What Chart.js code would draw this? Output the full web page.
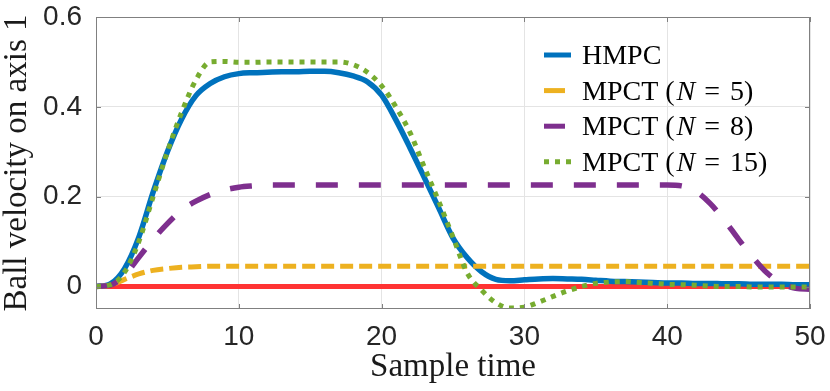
<!DOCTYPE html>
<html><head><meta charset="utf-8">
<script src="https://cdn.jsdelivr.net/npm/chart.js@4.4.0/dist/chart.umd.min.js"></script>
<style>html,body{margin:0;padding:0;background:#fff;}canvas{display:block;}</style>
</head><body>
<canvas id="c" width="830" height="391"></canvas>
<script>
const sampleTimes = [0,1,2,3,4,5,6,7,8,9,10,11,12,13,14,15,16,17,18,19,20,21,22,23,24,25,26,27,28,29,30,31,32,33,34,35,36,37,38,39,40,41,42,43,44,45,46,47,48,49,50];
const hmpc = [0,0.006,0.04,0.11,0.21,0.3,0.373,0.425,0.452,0.467,0.474,0.476,0.477,0.478,0.478,0.479,0.479,0.476,0.469,0.456,0.426,0.371,0.308,0.242,0.175,0.108,0.064,0.033,0.016,0.013,0.015,0.017,0.018,0.017,0.016,0.014,0.012,0.011,0.010,0.009,0.008,0.008,0.007,0.007,0.006,0.006,0.005,0.005,0.005,0.004,0.004];
const mpctN5 = [0,0.003,0.016,0.028,0.036,0.04,0.043,0.044,0.045,0.045,0.045,0.045,0.045,0.045,0.045,0.045,0.045,0.045,0.045,0.045,0.045,0.045,0.045,0.045,0.045,0.045,0.045,0.045,0.045,0.045,0.045,0.045,0.045,0.045,0.045,0.045,0.045,0.045,0.045,0.045,0.045,0.045,0.045,0.045,0.045,0.045,0.045,0.045,0.045,0.045,0.045];
const mpctN8 = [0,0.003,0.025,0.065,0.105,0.14,0.17,0.19,0.205,0.215,0.221,0.224,0.226,0.226,0.226,0.226,0.226,0.226,0.226,0.226,0.226,0.226,0.226,0.226,0.226,0.226,0.226,0.226,0.226,0.226,0.226,0.226,0.226,0.226,0.226,0.226,0.226,0.226,0.226,0.226,0.226,0.224,0.212,0.185,0.148,0.105,0.065,0.03,0.007,-0.004,-0.006];
const mpctN15 = [0,0.004,0.032,0.1,0.2,0.3,0.388,0.46,0.5,0.501,0.499,0.499,0.5,0.5,0.5,0.5,0.5,0.5,0.494,0.477,0.447,0.4,0.342,0.265,0.19,0.11,0.03,-0.008,-0.036,-0.048,-0.046,-0.035,-0.022,-0.01,0.0,0.007,0.01,0.011,0.009,0.007,0.005,0.004,0.003,0.001,0.0,0.0,-0.001,-0.001,-0.001,-0.001,-0.001];
const referenceTimes = [0,50];
const referenceValues = [0,0];
const seriesNames = ['HMPC','MPCT (N = 5)','MPCT (N = 8)','MPCT (N = 15)'];
const xTickValues = [0,10,20,30,40,50];
const xTickLabels = ['0','10','20','30','40','50'];
const yTickValues = [0,0.2,0.4,0.6];
const yTickLabels = ['0','0.2','0.4','0.6'];
const xTitle = 'Sample time';
const yTitle = 'Ball velocity on axis 1';

const pts = (xs, ys) => xs.map((x, i) => ({x: x, y: ys[i]}));

const colors = {blue:'#0072BD', yellow:'#EDB120', purple:'#7E2F8E', green:'#77AC30', red:'#FF3333'};

const datasets = [
  {label: seriesNames[0], data: pts(sampleTimes, hmpc), borderColor: colors.blue, borderWidth: 5.5, order: 3, legendDash: [], legendLen: 27},
  {label: seriesNames[1], data: pts(sampleTimes, mpctN5), borderColor: colors.yellow, borderWidth: 5, borderDash: [13, 6], order: 2, legendDash: [], legendLen: 21},
  {label: seriesNames[2], data: pts(sampleTimes, mpctN8), borderColor: colors.purple, borderWidth: 5.5, borderDash: [22, 21], order: 1, legendDash: [], legendLen: 21},
  {label: seriesNames[3], data: pts(sampleTimes, mpctN15), borderColor: colors.green, borderWidth: 5, borderDash: [5, 6], order: 0, legendDash: [5, 6], legendLen: 27},
  {label: 'reference', data: pts(referenceTimes, referenceValues), borderColor: colors.red, borderWidth: 5, order: 4, noLegend: true}
];
datasets.forEach(d => { d.pointRadius = 0; d.fill = false; d.borderCapStyle = 'butt'; d.cubicInterpolationMode = 'monotone'; });

const framePlugin = {
  id: 'frame',
  afterDatasetsDraw(chart) {
    const {ctx, chartArea: a, scales} = chart;
    ctx.save();
    ctx.strokeStyle = '#808080';
    ctx.lineWidth = 1;
    ctx.setLineDash([]);
    ctx.strokeRect(Math.round(a.left) + 0.5, Math.round(a.top) + 0.5, Math.round(a.right - a.left) - 1, Math.round(a.bottom - a.top) - 1);
    ctx.beginPath();
    const tl = 5;
    xTickValues.forEach(v => {
      const px = Math.round(scales.x.getPixelForValue(v)) + 0.5;
      ctx.moveTo(px, a.bottom); ctx.lineTo(px, a.bottom - tl);
      ctx.moveTo(px, a.top); ctx.lineTo(px, a.top + tl);
    });
    yTickValues.forEach(v => {
      const py = Math.round(scales.y.getPixelForValue(v)) + 0.5;
      ctx.moveTo(a.left, py); ctx.lineTo(a.left + tl, py);
      ctx.moveTo(a.right, py); ctx.lineTo(a.right - tl, py);
    });
    ctx.stroke();
    ctx.restore();
  }
};

const legendPlugin = {
  id: 'customLegend',
  afterDraw(chart) {
    const ctx = chart.ctx;
    const x0 = 544, textX = 582, y0 = 55, dy = 35.6;
    let row = 0;
    chart.data.datasets.forEach(d => {
      if (d.noLegend) return;
      const y = y0 + row * dy;
      ctx.save();
      ctx.strokeStyle = d.borderColor;
      ctx.lineWidth = 5;
      ctx.lineCap = 'butt';
      ctx.setLineDash(d.legendDash);
      ctx.beginPath(); ctx.moveTo(x0, y); ctx.lineTo(x0 + d.legendLen, y); ctx.stroke();
      ctx.restore();
      ctx.save();
      ctx.fillStyle = '#000';
      ctx.textBaseline = 'alphabetic';
      const base = y + 9;
      const m = d.label.match(/^(.*\()N = (.*)$/);
      const normal = '28px "Liberation Serif"';
      const ital = 'italic 28px "Liberation Serif"';
      if (m) {
        let x = textX;
        ctx.font = normal; ctx.fillText(m[1], x, base); x += ctx.measureText(m[1]).width + 2;
        ctx.font = ital; ctx.fillText('N', x, base); x += ctx.measureText('N').width + 9;
        ctx.font = normal; ctx.fillText('=', x, base); x += ctx.measureText('=').width + 10;
        ctx.fillText(m[2], x, base);
      } else {
        ctx.font = normal; ctx.fillText(d.label, textX, base);
      }
      ctx.restore();
      row++;
    });
  }
};

new Chart(document.getElementById('c'), {
  type: 'line',
  data: {datasets: datasets},
  options: {
    responsive: false,
    animation: false,
    devicePixelRatio: 1,
    layout: {padding: {top: 17, right: 20, left: 0, bottom: 0}},
    plugins: {legend: {display: false}, tooltip: {enabled: false}},
    scales: {
      x: {
        type: 'linear', min: 0, max: 50,
        afterBuildTicks: s => { s.ticks = xTickValues.map(v => ({value: v})); },
        afterFit: s => { s.height = 82; s.paddingLeft = 0; s.paddingRight = 0; },
        ticks: {
          callback: (v) => xTickLabels[xTickValues.indexOf(v)],
          font: {family: '"Liberation Sans"', size: 28},
          color: '#262626', padding: 11, maxRotation: 0, autoSkip: false
        },
        grid: {color: '#e4e4e4', lineWidth: 1, drawTicks: false},
        border: {display: false},
        title: {display: true, text: xTitle, font: {family: '"Liberation Serif"', size: 33, lineHeight: 1}, color: '#1a1a1a', padding: {top: 0, bottom: 7}}
      },
      y: {
        type: 'linear', min: -0.05, max: 0.6,
        afterBuildTicks: s => { s.ticks = yTickValues.map(v => ({value: v})); },
        afterFit: s => { s.width = 96; s.paddingTop = 0; s.paddingBottom = 0; },
        ticks: {
          callback: (v) => yTickLabels[yTickValues.indexOf(v)],
          font: {family: '"Liberation Sans"', size: 28},
          color: '#262626', padding: 14
        },
        grid: {color: '#e4e4e4', lineWidth: 1, drawTicks: false},
        border: {display: false},
        title: {display: true, text: yTitle, font: {family: '"Liberation Serif"', size: 33, lineHeight: 1}, color: '#1a1a1a', padding: {top: 1, bottom: 0}}
      }
    }
  },
  plugins: [framePlugin, legendPlugin]
});
</script>
</body></html>
